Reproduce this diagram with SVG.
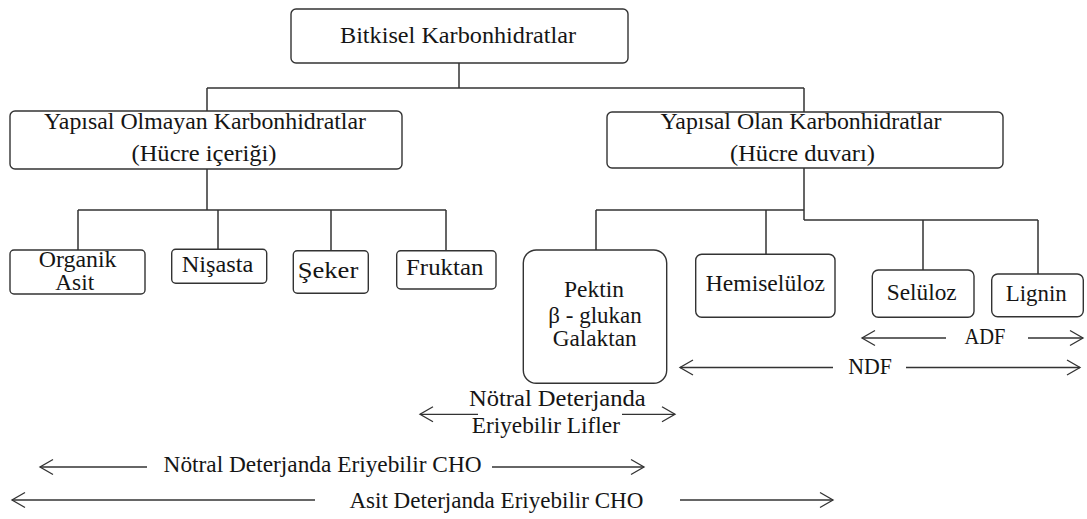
<svg xmlns="http://www.w3.org/2000/svg" width="1087" height="519" viewBox="0 0 1087 519">
<style>
  .box { fill: #fff; stroke: #333; stroke-width: 1.4; }
  .t { font-family: "Liberation Serif", "Times New Roman", serif; font-size: 23px; fill: #151515; text-anchor: middle; }
  .c { fill: none; stroke: #333; stroke-width: 1.5; }
  .a { fill: none; stroke: #333; stroke-width: 1.3; marker-end: url(#ah); }
</style>
<defs>
  <marker id="ah" markerWidth="16" markerHeight="18" refX="14" refY="9" orient="auto" markerUnits="userSpaceOnUse">
    <path d="M1,1.5 L14,9 L1,16.5" fill="none" stroke="#333" stroke-width="1.3"/>
  </marker>
</defs>
<rect width="1087" height="519" fill="#fff"/>
<g id="connectors">
  <path class="c" d="M459,63 V88 M207,88 H804 M207,88 V111 M804,88 V112"/>
  <path class="c" d="M207,169 V210 M78,210 H446 M78,210 V250 M218,210 V249 M331,210 V251 M446,210 V251"/>
  <path class="c" d="M804,168 V220 M596,210 H804 M596,210 V250 M766,210 V254 M804,220 H1038 M923,220 V270 M1038,220 V274"/>
</g>
<g id="n-root">
  <rect class="box" x="291" y="9" width="337" height="54" rx="5"/>
  <text class="t" x="458" y="43" textLength="236" lengthAdjust="spacingAndGlyphs">Bitkisel Karbonhidratlar</text>
</g>
<g id="n-nonstructural">
  <rect class="box" x="10" y="111" width="392" height="58" rx="5"/>
  <text class="t" x="205" y="128.5" textLength="322" lengthAdjust="spacingAndGlyphs">Yapısal Olmayan Karbonhidratlar</text>
  <text class="t" x="204" y="161" textLength="145" lengthAdjust="spacingAndGlyphs">(Hücre içeriği)</text>
</g>
<g id="n-structural">
  <rect class="box" x="607" y="112" width="396" height="56" rx="5"/>
  <text class="t" x="801" y="128.5" textLength="281" lengthAdjust="spacingAndGlyphs">Yapısal Olan Karbonhidratlar</text>
  <text class="t" x="802.5" y="161" textLength="145" lengthAdjust="spacingAndGlyphs">(Hücre duvarı)</text>
</g>
<g id="n-organik">
  <rect class="box" x="10" y="250" width="135" height="44" rx="4"/>
  <text class="t" x="77.7" y="266.7" textLength="77.7" lengthAdjust="spacingAndGlyphs">Organik</text>
  <text class="t" x="74.7" y="290" textLength="39" lengthAdjust="spacingAndGlyphs">Asit</text>
</g>
<g id="n-nisasta">
  <rect class="box" x="171.7" y="249.3" width="95" height="34" rx="4"/>
  <text class="t" x="217.5" y="272.3" textLength="71.7" lengthAdjust="spacingAndGlyphs">Nişasta</text>
</g>
<g id="n-seker">
  <rect class="box" x="293.3" y="250.7" width="75" height="42.6" rx="4"/>
  <text class="t" x="328" y="278.3" textLength="60.6" lengthAdjust="spacingAndGlyphs">Şeker</text>
</g>
<g id="n-fruktan">
  <rect class="box" x="396.7" y="250.7" width="99.3" height="38.3" rx="4"/>
  <text class="t" x="444.7" y="275" textLength="77.3" lengthAdjust="spacingAndGlyphs">Fruktan</text>
</g>
<g id="n-pektin">
  <rect class="box" x="523.3" y="250" width="143.4" height="133.3" rx="13"/>
  <text class="t" x="594" y="296.7" textLength="60" lengthAdjust="spacingAndGlyphs">Pektin</text>
  <text class="t" x="595" y="322.7" textLength="93.3" lengthAdjust="spacingAndGlyphs">β - glukan</text>
  <text class="t" x="594.7" y="345.7" textLength="84" lengthAdjust="spacingAndGlyphs">Galaktan</text>
</g>
<g id="n-hemiseluloz">
  <rect class="box" x="695.7" y="254.3" width="139.3" height="63" rx="6"/>
  <text class="t" x="765.4" y="291" textLength="119.3" lengthAdjust="spacingAndGlyphs">Hemiselüloz</text>
</g>
<g id="n-seluloz">
  <rect class="box" x="872.3" y="270" width="101.7" height="47.3" rx="6"/>
  <text class="t" x="921.7" y="300" textLength="70" lengthAdjust="spacingAndGlyphs">Selüloz</text>
</g>
<g id="n-lignin">
  <rect class="box" x="991.7" y="274" width="91.6" height="42.7" rx="6"/>
  <text class="t" x="1036.2" y="300.7" textLength="61" lengthAdjust="spacingAndGlyphs">Lignin</text>
</g>
<g id="ranges">
  <line class="a" x1="946" y1="338" x2="862" y2="338"/>
  <line class="a" x1="1028" y1="338" x2="1083" y2="338"/>
  <text class="t" x="985" y="344" textLength="41" lengthAdjust="spacingAndGlyphs">ADF</text>
  <line class="a" x1="833" y1="367.5" x2="680" y2="367.5"/>
  <line class="a" x1="906" y1="367.5" x2="1080" y2="367.5"/>
  <text class="t" x="870" y="373.5" textLength="43.7" lengthAdjust="spacingAndGlyphs">NDF</text>
  <line class="a" x1="478" y1="414.3" x2="420" y2="414.3"/>
  <line class="a" x1="622" y1="414.3" x2="675" y2="414.3"/>
  <text class="t" x="557.3" y="406" textLength="176.7" lengthAdjust="spacingAndGlyphs">Nötral Deterjanda</text>
  <text class="t" x="545.8" y="433.3" textLength="148.3" lengthAdjust="spacingAndGlyphs">Eriyebilir Lifler</text>
  <line class="a" x1="147" y1="467" x2="40" y2="467"/>
  <line class="a" x1="492" y1="467" x2="644" y2="467"/>
  <text class="t" x="322.6" y="472" textLength="318" lengthAdjust="spacingAndGlyphs">Nötral Deterjanda Eriyebilir CHO</text>
  <line class="a" x1="315" y1="500" x2="12" y2="500"/>
  <line class="a" x1="680" y1="500" x2="833" y2="500"/>
  <text class="t" x="496.4" y="508.3" textLength="294" lengthAdjust="spacingAndGlyphs">Asit Deterjanda Eriyebilir CHO</text>
</g>
</svg>
